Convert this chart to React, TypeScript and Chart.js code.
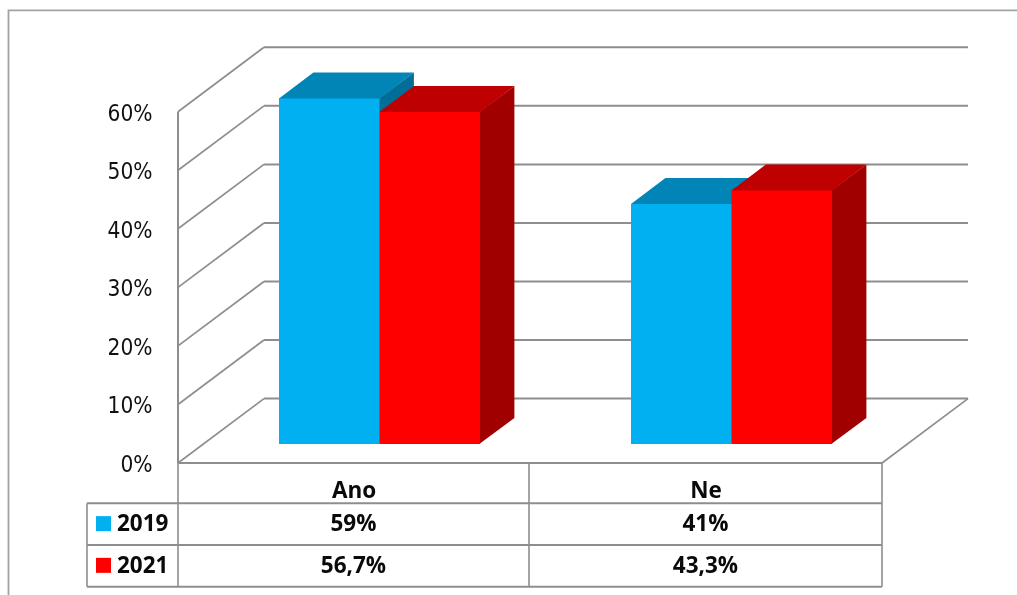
import React, { useEffect, useRef } from "react";
import { Chart, registerables } from "chart.js";

Chart.register(...registerables);

const categories = ["Ano", "Ne"];
const seriesNames = ["2019", "2021"];
const values2019 = [59, 41];
const values2021 = [56.7, 43.3];
const tickStep = 10;
const axisMax = 60;

const frontColors = ["#00B0F0", "#FF0000"];
const topColors = ["#0085B6", "#BF0000"];
const sideColors = ["#006E96", "#A00000"];
const lineColor = "#8E8E8E";

const WIDTH = 1017;
const HEIGHT = 595;
const AXIS_LEFT = 178;
const AXIS_RIGHT = 882;
const AXIS_TOP = 111.7;
const AXIS_BOTTOM = 463;

// Oblique projection of the 3D box: full floor depth and single bar depth.
const WALL_DX = 86;
const WALL_DY = 64.4;
const BAR_SHIFT_X = 25.5;
const BAR_SHIFT_Y = 19;
const BAR_DX = 34.4;
const BAR_DY = 26;
const FACE_OVERLAP = 0.7;

const TABLE_LEFT = 87;
const TABLE_ROWS = [503.3, 545, 586.7];
const TABLE_MID = 529;
const TABLE_FONT = "700 22.5px 'Open Sans'";

const formatPercent = (v: number) => String(v).replace(".", ",") + "%";

function stroke(ctx: CanvasRenderingContext2D, pts: number[][], width = 2, color = lineColor) {
  ctx.beginPath();
  pts.forEach(([x, y], i) => (i ? ctx.lineTo(x, y) : ctx.moveTo(x, y)));
  ctx.lineWidth = width;
  ctx.strokeStyle = color;
  ctx.stroke();
}

function fillPoly(ctx: CanvasRenderingContext2D, pts: number[][], color: string) {
  ctx.beginPath();
  pts.forEach(([x, y], i) => (i ? ctx.lineTo(x, y) : ctx.moveTo(x, y)));
  ctx.closePath();
  ctx.fillStyle = color;
  ctx.fill();
}

const box3d = {
  id: "box3d",
  beforeDraw(chart: any) {
    // Outer chart border: only the left and top edges fall inside the canvas.
    stroke(chart.ctx, [[8.5, HEIGHT], [8.5, 10.3], [WIDTH, 10.3]], 1.8, "#A3A3A3");
  },
  beforeDatasetsDraw(chart: any) {
    const ctx = chart.ctx as CanvasRenderingContext2D;
    const { left, right, bottom, top } = chart.chartArea;
    const y = chart.scales.y;

    // Walls and gridlines
    stroke(ctx, [[left, top], [left, bottom]]);
    y.ticks.forEach((t: any) => {
      const py = y.getPixelForValue(t.value);
      stroke(ctx, [[left, py], [left + WALL_DX, py - WALL_DY]], 1.7);
      stroke(ctx, [[left + WALL_DX, py - WALL_DY], [right + WALL_DX, py - WALL_DY]]);
    });
    stroke(ctx, [[right, bottom], [right + WALL_DX, bottom - WALL_DY]], 1.7);

    // Top and side faces of the columns, 2019 first so 2021 overlaps it.
    // Faces run slightly under the front face so no seam shows along the edge.
    chart.data.datasets.forEach((_: any, di: number) => {
      chart.getDatasetMeta(di).data.forEach((bar: any) => {
        const l = bar.x - bar.width / 2 + BAR_SHIFT_X;
        const r = bar.x + bar.width / 2 + BAR_SHIFT_X;
        const t = bar.y - BAR_SHIFT_Y;
        const b = bar.base - BAR_SHIFT_Y;
        fillPoly(
          ctx,
          [[r - FACE_OVERLAP, t], [r + BAR_DX, t - BAR_DY], [r + BAR_DX, b - BAR_DY], [r - FACE_OVERLAP, b]],
          sideColors[di],
        );
        fillPoly(
          ctx,
          [[l, t + FACE_OVERLAP], [l, t], [l + BAR_DX, t - BAR_DY], [r + BAR_DX, t - BAR_DY], [r, t], [r, t + FACE_OVERLAP]],
          topColors[di],
        );
      });
    });

    ctx.save();
    ctx.translate(BAR_SHIFT_X, -BAR_SHIFT_Y);
  },
  afterDatasetsDraw(chart: any) {
    chart.ctx.restore();
  },
  afterDraw(chart: any) {
    const ctx = chart.ctx as CanvasRenderingContext2D;
    const { left, right, bottom } = chart.chartArea;

    // Floor front edge and the data table below it
    stroke(ctx, [[left, bottom], [right, bottom]], 2.2);
    const [r1, r2, r3] = TABLE_ROWS;
    stroke(ctx, [[left, bottom], [left, r3]], 1.6);
    stroke(ctx, [[TABLE_MID, bottom], [TABLE_MID, r3]], 1.6);
    stroke(ctx, [[right, bottom], [right, r3]], 1.6);
    stroke(ctx, [[TABLE_LEFT, r1], [right, r1]]);
    stroke(ctx, [[TABLE_LEFT, r2], [right, r2]]);
    stroke(ctx, [[TABLE_LEFT, r3], [right, r3]]);
    stroke(ctx, [[TABLE_LEFT, r1], [TABLE_LEFT, r3]], 1.6);

    ctx.font = TABLE_FONT;
    ctx.textBaseline = "middle";
    chart.data.datasets.forEach((ds: any, di: number) => {
      const rowMid = (TABLE_ROWS[di] + TABLE_ROWS[di + 1]) / 2;
      ctx.fillStyle = frontColors[di];
      ctx.fillRect(96, rowMid - 8, 15, 15);
      ctx.fillStyle = "#0A0A0A";
      ctx.textAlign = "left";
      ctx.fillText(ds.label, 117, rowMid + 0.5);
      ctx.textAlign = "center";
      ds.data.forEach((v: number, ci: number) => {
        const cx = ci === 0 ? (left + TABLE_MID) / 2 : (TABLE_MID + right) / 2;
        ctx.fillText(formatPercent(v), cx, rowMid + 0.5);
      });
    });
  },
};

export default function App() {
  const ref = useRef<HTMLCanvasElement>(null);

  useEffect(() => {
    const chart = new Chart(ref.current as HTMLCanvasElement, {
      type: "bar",
      data: {
        labels: categories,
        datasets: [
          { label: seriesNames[0], data: values2019, backgroundColor: frontColors[0], clip: false },
          { label: seriesNames[1], data: values2021, backgroundColor: frontColors[1], clip: false },
        ],
      } as any,
      options: {
        animation: false,
        responsive: false,
        layout: { padding: { left: 0, right: WIDTH - AXIS_RIGHT, top: AXIS_TOP, bottom: 0 } },
        plugins: { legend: { display: false }, title: { display: false }, tooltip: { enabled: false } },
        datasets: { bar: { categoryPercentage: 0.571, barPercentage: 1 } },
        scales: {
          x: {
            grid: { display: false },
            border: { display: false },
            ticks: { color: "#0A0A0A", padding: 7, font: { family: "'Open Sans'", size: 22.5, weight: 700 } },
            afterFit: (s: any) => { s.height = HEIGHT - AXIS_BOTTOM; },
          },
          y: {
            min: 0,
            max: axisMax,
            grid: { display: false, drawTicks: false },
            border: { display: false },
            ticks: {
              stepSize: tickStep,
              padding: 25.5,
              labelOffset: 3,
              color: "#111111",
              font: { family: "'DejaVu Sans Condensed'", size: 22.5 },
              callback: (v: any) => v + "%",
            },
            afterFit: (s: any) => { s.width = AXIS_LEFT; },
          },
        },
      } as any,
      plugins: [box3d],
    });
    return () => chart.destroy();
  }, []);

  return (
    <canvas
      ref={ref}
      width={WIDTH}
      height={HEIGHT}
      style={{ position: "absolute", left: 0, top: 0, display: "block", width: WIDTH, height: HEIGHT }}
    />
  );
}
